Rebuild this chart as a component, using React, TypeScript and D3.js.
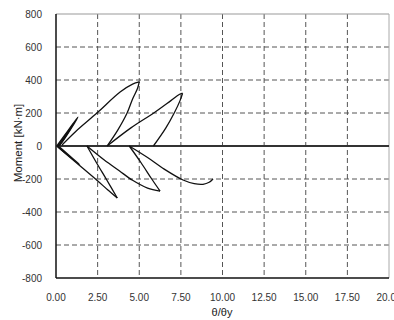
import React, { useEffect, useRef } from "react";
import * as d3 from "d3";

// x ticks and y ticks
const xTicks = [0, 2.5, 5, 7.5, 10, 12.5, 15, 17.5, 20];
const yTicks = [-800, -600, -400, -200, 0, 200, 400, 600, 800];

// hysteresis branches: [theta/theta_y, moment]
const smallPosA = [[0.05, 0], [0.7, 90], [1.32, 176], [0.9, 105], [0.25, 10], [0.05, 0]];
const smallPosB = [[0.1, -5], [0.6, 70], [1.05, 135], [0.75, 85], [0.2, 0]];
const smallNeg = [[0.05, 0], [0.7, -55], [1.42, -112], [1.0, -75], [0.2, -5]];
const loop1Load = [[0.36, 6], [1.2, 90], [2.46, 200], [3.85, 327], [4.6, 375], [5.0, 388]];
const loop1Unload = [[5.0, 388], [4.9, 350], [4.6, 285], [4.27, 200], [3.7, 95], [3.07, 0]];
const loop2Load = [[3.07, 0], [4.5, 110], [5.87, 200], [6.9, 275], [7.4, 312], [7.6, 320]];
const loop2Unload = [[7.6, 320], [7.45, 275], [7.1, 200], [6.6, 110], [5.85, 0]];
const loopALoad = [[0.1, -5], [1.24, -103], [2.44, -206], [3.1, -265], [3.68, -315]];
const loopAReturn = [[3.68, -315], [3.05, -206], [2.44, -103], [1.86, 0]];
const loopBLoad = [[1.86, 0], [2.9, -85], [3.8, -150], [4.6, -208], [5.5, -255], [6.25, -273]];
const loopBReturn = [[6.25, -273], [5.75, -200], [5.1, -100], [4.4, 0]];
const loopCLoad = [[4.4, 0], [5.5, -70], [6.5, -140], [7.63, -206], [8.3, -228], [8.83, -232], [9.2, -220], [9.43, -200]];

const branches = [
  smallPosA, smallPosB, smallNeg,
  loop1Load, loop1Unload, loop2Load, loop2Unload,
  loopALoad, loopAReturn, loopBLoad, loopBReturn, loopCLoad,
];

export default function App() {
  const svgRef = useRef<SVGSVGElement>(null);

  useEffect(() => {
    const width = 394;
    const height = 320;
    const svg = d3.select(svgRef.current);
    svg.selectAll("*").remove();

    const x = d3.scaleLinear().domain([0, 20]).range([56, 389]);
    const y = d3.scaleLinear().domain([-800, 800]).range([278, 14]);

    const g = svg.append("g");

    // grid
    g.selectAll("line.vgrid")
      .data(xTicks.filter((d) => d > 0 && d < 20))
      .enter()
      .append("line")
      .attr("x1", (d) => x(d))
      .attr("x2", (d) => x(d))
      .attr("y1", y(800))
      .attr("y2", y(-800))
      .attr("stroke", "#555")
      .attr("stroke-width", 1)
      .attr("stroke-dasharray", "5,3");

    g.selectAll("line.hgrid")
      .data(yTicks.filter((d) => d !== 0 && Math.abs(d) < 800))
      .enter()
      .append("line")
      .attr("x1", x(0))
      .attr("x2", x(20))
      .attr("y1", (d) => y(d))
      .attr("y2", (d) => y(d))
      .attr("stroke", "#555")
      .attr("stroke-width", 1)
      .attr("stroke-dasharray", "5,3");

    // frame
    g.append("line")
      .attr("x1", x(0)).attr("x2", x(20))
      .attr("y1", y(800)).attr("y2", y(800))
      .attr("stroke", "#999");
    g.append("line")
      .attr("x1", x(20)).attr("x2", x(20))
      .attr("y1", y(800)).attr("y2", y(-800))
      .attr("stroke", "#aaa");
    g.append("line")
      .attr("x1", x(0)).attr("x2", x(0))
      .attr("y1", y(800)).attr("y2", y(-800))
      .attr("stroke", "#111").attr("stroke-width", 1.5);
    g.append("line")
      .attr("x1", x(0)).attr("x2", x(20))
      .attr("y1", y(-800)).attr("y2", y(-800))
      .attr("stroke", "#111").attr("stroke-width", 1.5);

    // zero line
    g.append("line")
      .attr("x1", x(0)).attr("x2", x(20))
      .attr("y1", y(0)).attr("y2", y(0))
      .attr("stroke", "#333").attr("stroke-width", 2);

    // curves
    const line = d3
      .line<number[]>()
      .x((d) => x(d[0]))
      .y((d) => y(d[1]))
      .curve(d3.curveCatmullRom.alpha(0.5));

    g.selectAll("path.branch")
      .data(branches)
      .enter()
      .append("path")
      .attr("d", (d) => line(d))
      .attr("fill", "none")
      .attr("stroke", "#111")
      .attr("stroke-width", 1.3);

    // tick labels
    const font = "'Liberation Sans', Arial, sans-serif";
    g.selectAll("text.xt")
      .data(xTicks)
      .enter()
      .append("text")
      .attr("x", (d) => x(d))
      .attr("y", 301)
      .attr("text-anchor", "middle")
      .attr("font-family", font)
      .attr("font-size", 10)
      .attr("fill", "#333")
      .text((d) => d.toFixed(2));

    g.selectAll("text.yt")
      .data(yTicks)
      .enter()
      .append("text")
      .attr("x", 42)
      .attr("y", (d) => y(d) + 4)
      .attr("text-anchor", "end")
      .attr("font-family", font)
      .attr("font-size", 10)
      .attr("fill", "#333")
      .text((d) => d);

    // axis titles
    g.append("text")
      .attr("x", 222)
      .attr("y", 316)
      .attr("text-anchor", "middle")
      .attr("font-family", font)
      .attr("font-size", 11)
      .attr("fill", "#222")
      .text("θ/θy");

    g.append("text")
      .attr("transform", "translate(22,143) rotate(-90)")
      .attr("text-anchor", "middle")
      .attr("font-family", font)
      .attr("font-size", 11.5)
      .attr("fill", "#222")
      .text("Moment [kN·m]");

    svg.attr("width", width).attr("height", height);
  }, []);

  return (
    <svg
      ref={svgRef}
      width={394}
      height={320}
      style={{ position: "absolute", left: 0, top: 0, background: "#fff" }}
    ></svg>
  );
}
